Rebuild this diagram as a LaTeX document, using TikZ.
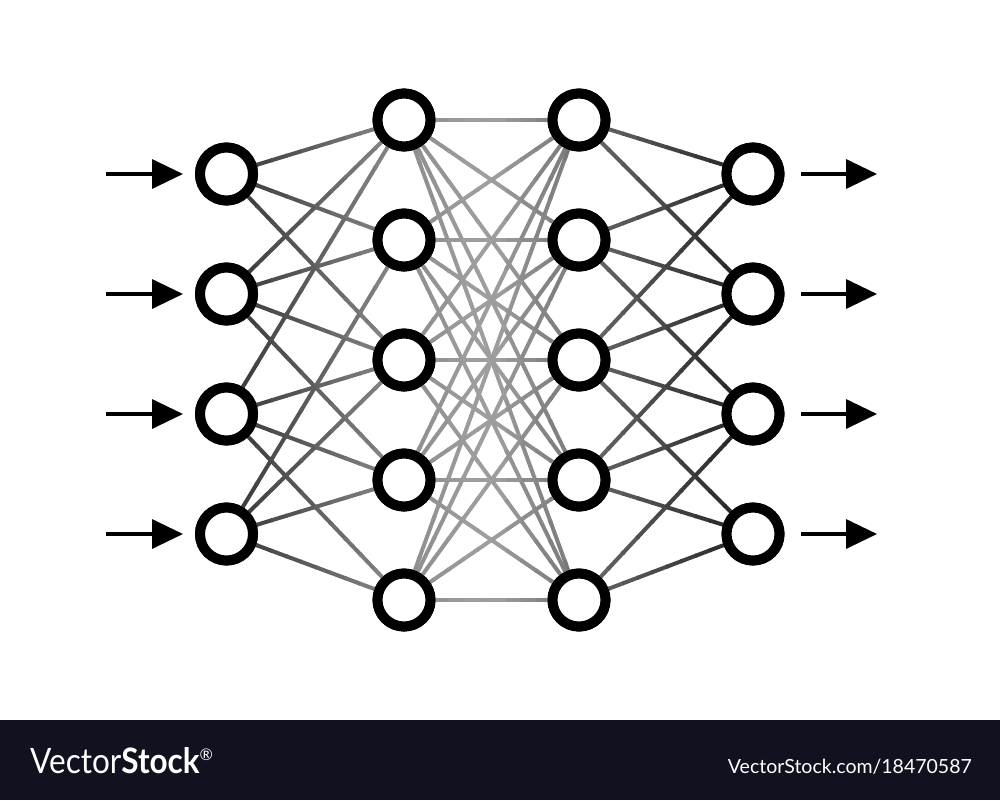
\documentclass[tikz,border=0pt]{standalone}
\usepackage{fontspec}
\setmainfont{Lato}
\usetikzlibrary{calc,arrows.meta}
\definecolor{barcol}{RGB}{17,18,32}
\tikzset{
  neuron/.style={circle, draw=black, line width=10pt, fill=white, minimum size=53pt, inner sep=0pt},
  edgeline/.style={line width=4pt},
  ioarrow/.style={line width=3.5pt, -{Triangle[length=31pt 0 0, width=29pt 0 0]}},
}
\newcommand{\gradedge}[4]{%
  \foreach \k in {0,...,11}{%
    \pgfmathsetmacro\ta{\k/12}%
    \pgfmathsetmacro\tb{min((\k+1)/12+0.01,1)}%
    \pgfmathsetmacro\xm{#3+(#4-#3)*(\k+0.5)/12}%
    \pgfmathsetmacro\bA{80-(\xm-227)/178*35}%
    \pgfmathsetmacro\bB{45-(\xm-405)/85*7}%
    \pgfmathsetmacro\bC{38+(\xm-490)/89*17}%
    \pgfmathsetmacro\bD{58+(\xm-579)/174*30}%
    \pgfmathtruncatemacro\bk{\xm<405 ? \bA : (\xm<490 ? \bB : (\xm<579 ? \bC : \bD))}%
    \draw[edgeline, draw=black!\bk] ($(#1.center)!\ta!(#2.center)$) -- ($(#1.center)!\tb!(#2.center)$);
  }%
}
\begin{document}
\begin{tikzpicture}[x=1pt, y=-1pt]
\useasboundingbox (0,0) rectangle (1000,800);
\fill[white] (0,0) rectangle (1000,800);
% layers
\foreach \i/\y in {1/174,2/294,3/414,4/534}{
  \node[neuron] (a\i) at (226.5,\y) {};
  \node[neuron] (d\i) at (753,\y) {};
}
\foreach \i/\y in {1/120,2/240,3/360,4/480,5/600}{
  \node[neuron] (b\i) at (404,\y) {};
  \node[neuron] (c\i) at (579,\y) {};
}
% edges: input layer -> first hidden layer
\foreach \i/\j in {1/1,1/2,1/3, 2/1,2/2,2/3,2/4, 3/1,3/3,3/4,3/5, 4/2,4/3,4/4,4/5}{
  \gradedge{a\i}{b\j}{226.5}{404}}
% first hidden -> second hidden (full)
\foreach \i in {1,...,5}{\foreach \j in {1,...,5}{\gradedge{b\i}{c\j}{404}{579}}}
% second hidden -> output layer
\foreach \i/\j in {1/1,1/2, 2/1,2/2,2/3, 3/1,3/2,3/3,3/4, 4/2,4/3,4/4, 5/3,5/4}{
  \gradedge{c\i}{d\j}{579}{753}}
% neurons on top of the edges
\foreach \i in {1,...,4}{
  \node[neuron] at (a\i) {};
  \node[neuron] at (d\i) {};
}
\foreach \i in {1,...,5}{
  \node[neuron] at (b\i) {};
  \node[neuron] at (c\i) {};
}
% input and output arrows
\foreach \i/\y in {1/174,2/294,3/414,4/534}{
  \coordinate (in\i) at (106,\y);
  \coordinate (out\i) at (877,\y);
  \draw[ioarrow] (in\i) -- ($(a\i.center)+(-43.5,0)$);
  \draw[ioarrow] ($(d\i.center)+(48,0)$) -- (out\i);
}
% bottom bar
\fill[barcol] (0,720) rectangle (1000,800);
\node[anchor=base west, inner sep=0pt, text=white, font=\fontsize{35}{35}\selectfont] (logo) at (30,773)
  {\scalebox{0.9}[1]{Vector\textbf{Stock}}\raisebox{13pt}{\fontsize{16}{16}\selectfont\textregistered}};
\node[anchor=base east, inner sep=0pt, text=white, font=\fontsize{19.5}{20}\selectfont] (url) at (972,773)
  {VectorStock.com/18470587};
\end{tikzpicture}
\end{document}
